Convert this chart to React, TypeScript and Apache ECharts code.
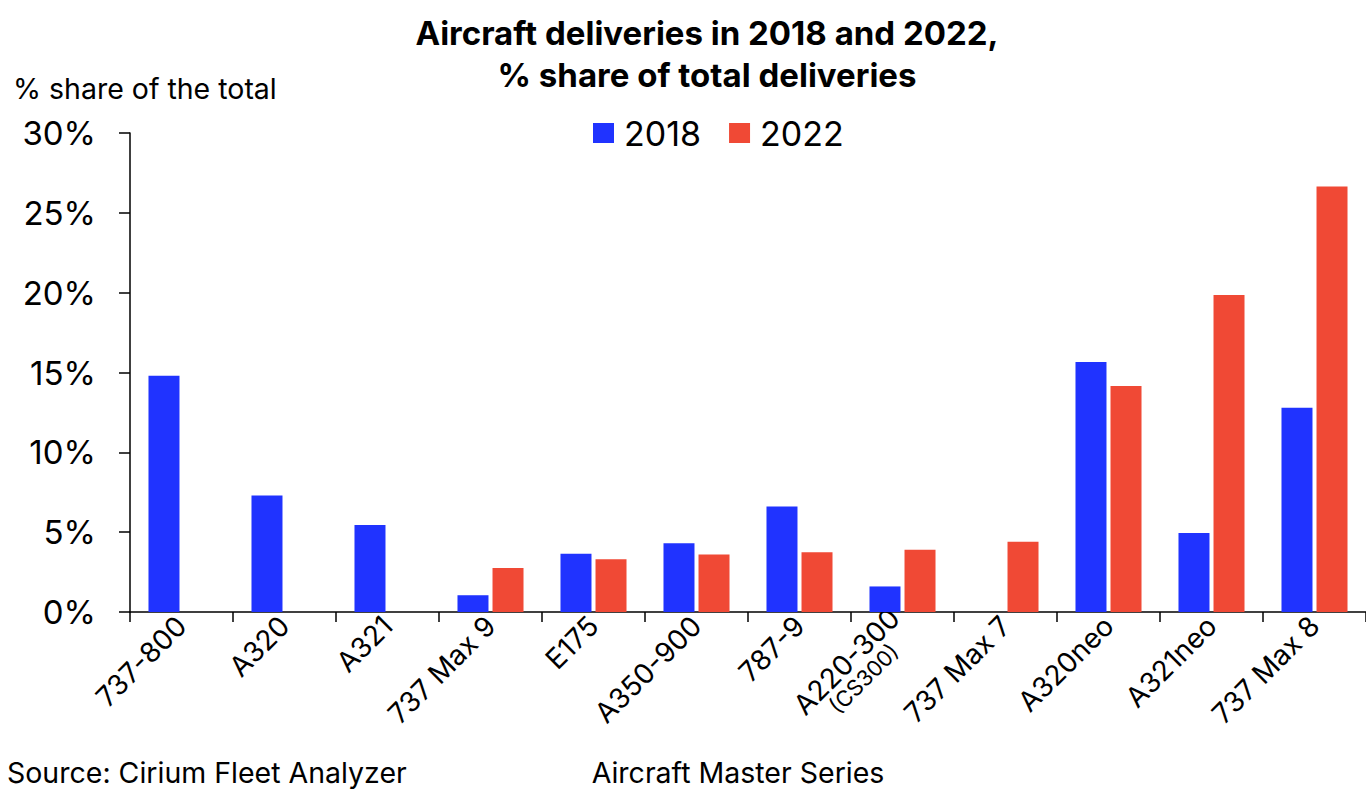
import React, { useEffect, useRef } from "react";
import * as echarts from "echarts";

const categories = [
  "737-800",
  "A320",
  "A321",
  "737 Max 9",
  "E175",
  "A350-900",
  "787-9",
  "A220-300|(CS300)",
  "737 Max 7",
  "A320neo",
  "A321neo",
  "737 Max 8",
];
const values2018 = [14.8, 7.3, 5.45, 1.05, 3.65, 4.3, 6.6, 1.6, null, 15.65, 4.95, 12.8];
const values2022 = [null, null, null, 2.75, 3.3, 3.6, 3.75, 3.9, 4.4, 14.15, 19.85, 26.65];
const seriesNames = ["2018", "2022"];
const yTicks = { min: 0, max: 30, interval: 5 };

const titleLines = ["Aircraft deliveries in 2018 and 2022,", "% share of total deliveries"];
const yAxisName = "% share of the total";
const xAxisName = "Aircraft Master Series";
const sourceText = "Source: Cirium Fleet Analyzer";

const FONT = "Inter";
const BLUE = "#2033FF";
const RED = "#F04935";

export default function App() {
  const ref = useRef<HTMLDivElement>(null);
  useEffect(() => {
    if (!ref.current) return;
    const chart = echarts.init(ref.current, null, { renderer: "svg" });
    const txt = (text: string, x: number, y: number, font: string, align: string) => ({
      type: "text",
      x,
      y,
      style: { text, font, fill: "#000", textAlign: align, textVerticalAlign: "middle" },
    });
    chart.setOption({
      animation: false,
      backgroundColor: "#ffffff",
      textStyle: { fontFamily: FONT },
      graphic: [
        txt(titleLines[0], 707, 33, `bold 33px ${FONT}`, "center"),
        txt(titleLines[1], 707, 75, `bold 33px ${FONT}`, "center"),
        txt(yAxisName, 13, 88, `28.5px ${FONT}`, "left"),
        txt(xAxisName, 738, 772, `28.5px ${FONT}`, "center"),
        txt(sourceText, 7, 772, `28.5px ${FONT}`, "left"),
      ],
      legend: {
        data: seriesNames,
        left: 588,
        top: 111,
        icon: "rect",
        itemWidth: 21,
        itemHeight: 20,
        itemGap: 28,
        textStyle: { fontSize: 34, color: "#000", fontFamily: FONT, padding: [0, 0, 0, 5] },
      },
      grid: { left: 130, top: 133, width: 1240, height: 479, containLabel: false },
      xAxis: {
        type: "category",
        data: categories,
        axisLine: { lineStyle: { color: "#000", width: 1.5 } },
        axisTick: { show: true, length: 10, lineStyle: { color: "#000", width: 1.5 } },
        axisLabel: {
          rotate: 45,
          margin: 9,
          interval: 0,
          fontSize: 28,
          color: "#000",
          fontFamily: FONT,
          formatter: (v: string) => {
            const parts = v.split("|");
            if (parts.length > 1) return `{a|${parts[0]}}\n{b|${parts[1]}}`;
            return v;
          },
          rich: {
            a: { fontSize: 28, color: "#000", fontFamily: FONT, lineHeight: 27, align: "center" },
            b: { fontSize: 22, color: "#000", fontFamily: FONT, lineHeight: 22, align: "center" },
          },
        },
      },
      yAxis: {
        type: "value",
        min: yTicks.min,
        max: yTicks.max,
        interval: yTicks.interval,
        splitLine: { show: false },
        axisLine: { show: true, lineStyle: { color: "#000", width: 1.5 } },
        axisTick: { show: true, length: 11, lineStyle: { color: "#000", width: 1.5 } },
        axisLabel: {
          margin: 34,
          fontSize: 33,
          color: "#000",
          fontFamily: FONT,
          formatter: "{value}%",
        },
      },
      series: [
        {
          name: seriesNames[0],
          type: "bar",
          data: values2018,
          barWidth: 31,
          barGap: "13%",
          itemStyle: { color: BLUE },
        },
        {
          name: seriesNames[1],
          type: "bar",
          data: values2022,
          barWidth: 31,
          barGap: "13%",
          itemStyle: { color: RED },
        },
      ],
    });
    return () => chart.dispose();
  }, []);
  return (
    <div
      ref={ref}
      style={{ position: "fixed", left: 0, top: 0, width: 1366, height: 790 }}
    />
  );
}
